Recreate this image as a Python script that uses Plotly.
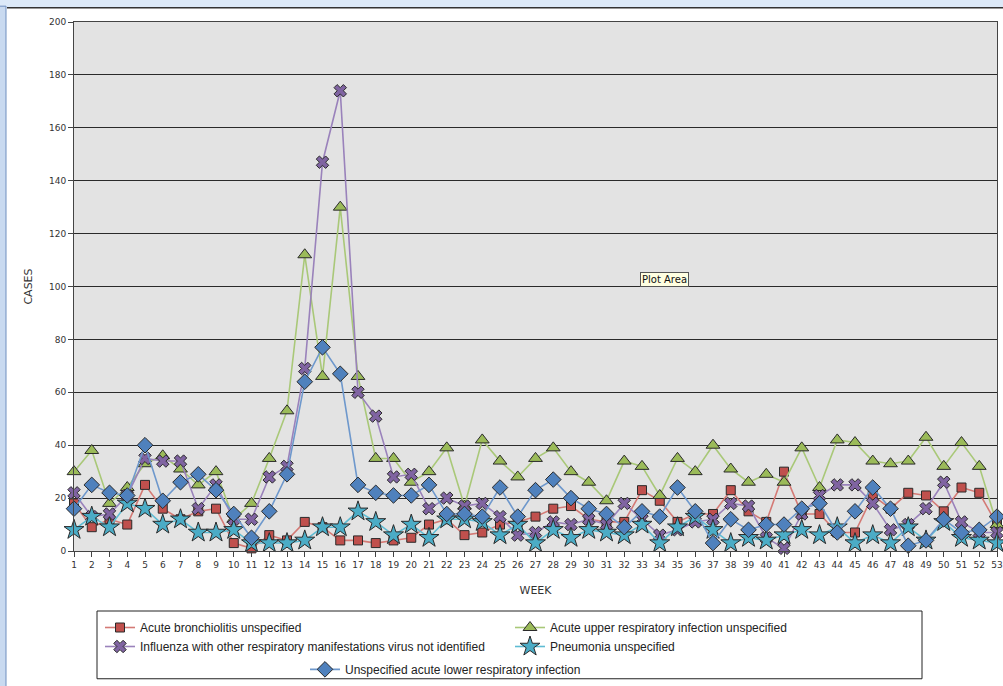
import plotly.graph_objects as go

weeks = list(range(1, 54))

bronchiolitis = [18, 9, 12, 10, 25, 16, 12, 15, 16, 3, 1, 6, 4, 11, 9, 4, 4, 3, 4, 5,
                 10, 12, 6, 7, 10, 11, 13, 16, 17, 12, 11, 11, 23, 19, 11, 14, 14, 23, 15, 11,
                 30, 14, 14, 7, 7, 21, 16, 22, 21, 15, 24, 22, 10]
upper_resp = [30, 38, 18, 24, 33, 36, 31, 25, 30, 12, 18, 35, 53, 112, 66, 130, 66, 35, 35, 26,
              30, 39, 17, 42, 34, 28, 35, 39, 30, 26, 19, 34, 32, 21, 35, 30, 40, 31, 26, 29,
              26, 39, 24, 42, 41, 34, 33, 34, 43, 32, 41, 32, 10]
influenza = [22, 13, 14, 21, 35, 34, 34, 16, 25, 12, 12, 28, 32, 69, 147, 174, 60, 51, 28, 29,
             16, 20, 17, 18, 13, 6, 7, 11, 10, 12, 10, 18, 12, 6, 8, 11, 12, 18, 17, 5,
             1, 14, 21, 25, 25, 18, 8, 10, 16, 26, 11, 7, 7]
pneumonia = [8, 13, 9, 18, 16, 10, 12, 7, 7, 8, 3, 3, 3, 4, 9, 9, 15, 11, 6, 10,
             5, 12, 12, 11, 6, 10, 3, 8, 5, 8, 7, 6, 10, 3, 9, 13, 8, 3, 5, 4,
             6, 8, 6, 9, 3, 6, 3, 9, 4, 11, 5, 4, 3]
lower_resp = [16, 25, 22, 21, 40, 19, 26, 29, 23, 14, 5, 15, 29, 64, 77, 67, 25, 22, 21, 21,
              25, 14, 14, 13, 24, 13, 23, 27, 20, 16, 14, 9, 15, 13, 24, 15, 3, 12, 8, 10,
              10, 16, 18, 7, 15, 24, 16, 2, 4, 12, 7, 8, 13]

y_ticks = list(range(0, 201, 20))

series = [
    ("Acute bronchiolitis unspecified", bronchiolitis, "#c0504d", "#d47a75", "square", 9, "legend"),
    ("Acute upper respiratory infection unspecified", upper_resp, "#9bbb59", "#a9c878", "triangle-up", 12, "legend"),
    ("Influenza with other respiratory manifestations virus not identified", influenza, "#8064a2", "#9a82bb", "x", 11, "legend"),
    ("Pneumonia unspecified", pneumonia, "#4bacc6", "#5fbcd3", "star", 15, "legend"),
    ("Unspecified acute lower respiratory infection", lower_resp, "#4f81bd", "#6e98cc", "diamond", 12, "legend2"),
]

# vertical compensation for the capture
SY = 686 / 690
W, H = 1003, 690
L, R = 74, 6
T = round(22 / SY)
B = H - round(553 / SY)
pw, ph = W - L - R, H - T - B


def px_x(px):
    return (px - L) / pw


def px_y(py):
    return (H - B - py / SY) / ph


fig = go.Figure()
for name, vals, mcol, lcol, sym, size, lg in series:
    fig.add_trace(go.Scatter(
        x=weeks, y=vals, name=name, mode="lines+markers",
        line=dict(color=lcol, width=1.6),
        marker=dict(symbol=sym, size=size, color=mcol, line=dict(color="#2a2a2a", width=1)),
        cliponaxis=False, legend=lg,
    ))

shapes = [
    # window frame: top band and left border
    dict(type="rect", xref="paper", yref="paper", x0=px_x(-5), x1=px_x(1010),
         y0=px_y(7), y1=px_y(-5), fillcolor="#dce9f8", line=dict(width=0), layer="above"),
    dict(type="line", xref="paper", yref="paper", x0=px_x(7), x1=px_x(1010),
         y0=px_y(7.5), y1=px_y(7.5), line=dict(color="#333333", width=1.5)),
    dict(type="rect", xref="paper", yref="paper", x0=px_x(-5), x1=px_x(6),
         y0=px_y(700), y1=px_y(6), fillcolor="#c9daf0", line=dict(color="#6f8fbf", width=1)),
    # legend box
    dict(type="rect", xref="paper", yref="paper", x0=px_x(97), x1=px_x(922),
         y0=px_y(681), y1=px_y(613), line=dict(color="#222222", width=1), fillcolor="rgba(0,0,0,0)"),
]

fig.update_layout(
    width=W, height=H,
    margin=dict(l=L, r=R, t=T, b=B),
    paper_bgcolor="white", plot_bgcolor="#e3e3e3",
    font=dict(family="DejaVu Sans", color="#333333"),
    shapes=shapes,
    showlegend=True,
    legend=dict(orientation="h", x=px_x(100), y=px_y(615), xanchor="left", yanchor="top",
                entrywidth=365, entrywidthmode="pixels", itemwidth=30,
                font=dict(family="Liberation Sans", size=12, color="#222222"),
                bgcolor="rgba(0,0,0,0)", tracegroupgap=0, traceorder="normal"),
    legend2=dict(orientation="h", x=px_x(305), y=px_y(657), xanchor="left", yanchor="top",
                 itemwidth=30,
                 font=dict(family="Liberation Sans", size=12, color="#222222"),
                 bgcolor="rgba(0,0,0,0)"),
    annotations=[
        dict(text="Plot Area", xref="paper", yref="paper", x=px_x(664), y=px_y(280),
             showarrow=False, font=dict(family="DejaVu Sans", size=10, color="#111111"),
             bgcolor="#ffffe1", bordercolor="#555555", borderwidth=1, borderpad=1),
    ],
)

fig.update_xaxes(
    range=[1, 53], tickmode="array", tickvals=weeks, ticktext=[str(w) for w in weeks],
    showgrid=False, zeroline=False, showline=True, linecolor="#444444", mirror=True,
    ticks="outside", ticklen=5, tickcolor="#444444", automargin=False,
    tickfont=dict(family="DejaVu Sans", size=9, color="#333333"),
    title=dict(text="WEEK", font=dict(family="DejaVu Sans", size=11, color="#333333"), standoff=17),
)
fig.update_yaxes(
    range=[0, 200], tickmode="array", tickvals=y_ticks, ticktext=[str(v) for v in y_ticks],
    showgrid=True, gridcolor="#2a2a2a", gridwidth=1, zeroline=False,
    showline=True, linecolor="#444444", mirror=True, automargin=False,
    ticks="outside", ticklen=5, tickcolor="#444444",
    tickfont=dict(family="DejaVu Sans", size=9, color="#333333"),
    title=dict(text="CASES", font=dict(family="DejaVu Sans", size=11, color="#333333"), standoff=14),
)

fig.write_html(
    "out.html",
    config={"displayModeBar": False},
    post_script="document.body.style.margin='0';document.body.style.overflow='hidden';",
)
